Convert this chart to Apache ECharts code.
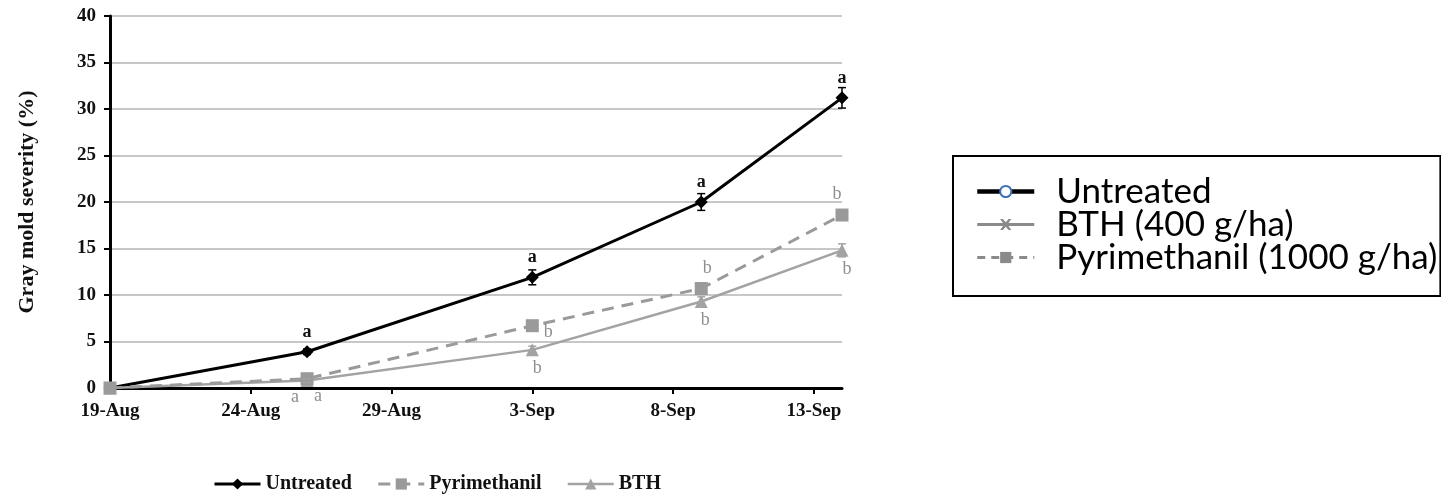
<!DOCTYPE html>
<html>
<head>
<meta charset="utf-8">
<script src="https://cdn.jsdelivr.net/npm/echarts@6/dist/echarts.min.js"></script>
<style>
  html, body { margin: 0; padding: 0; background: #fff; }
  #chart { width: 1441px; height: 495px; }
</style>
</head>
<body>
<div id="chart"></div>
<script>
// ---- data (x = days after 19-Aug) ----
const xDays = [0, 7, 15, 21, 26];
const untreated = [0, 3.9, 11.9, 20.0, 31.2];
const untreatedErr = [0, 0.3, 0.8, 0.9, 1.1];
const pyrimethanil = [0, 1.0, 6.7, 10.7, 18.6];
const pyrimethanilErr = [0, 0.2, 0.4, 0.6, 0.5];
const bth = [0, 0.8, 4.1, 9.3, 14.8];
const bthErr = [0, 0.2, 0.4, 0.5, 0.7];
const untreatedLetters = ['', 'a', 'a', 'a', 'a'];
const pyrimethanilLetters = ['', 'a', 'b', 'b', 'b'];
const bthLetters = ['', 'a', 'b', 'b', 'b'];
const xTickDays = [0, 5, 10, 15, 20, 25];
const xTickLabels = ['19-Aug', '24-Aug', '29-Aug', '3-Sep', '8-Sep', '13-Sep'];
const seriesNames = ['Untreated', 'Pyrimethanil', 'BTH'];
const keyNames = ['Untreated', 'BTH (400 g/ha)', 'Pyrimethanil (1000 g/ha)'];
const yAxisTitle = 'Gray mold severity (%)';

// ---- styling ----
const serif = '"Liberation Serif", "Times New Roman", serif';
const GRAY_P = '#9a9a9a';
const GRAY_B = '#a3a3a3';
const GRAY_K = '#8a8a8a';
const untreatedPlace = [null, {}, {}, {}, {}].map(p => ({ position: 'top', distance: 4 }));
const pyrPlace = [
  null,
  { position: 'bottom', offset: [11, -3] },
  { position: 'right', offset: [0, 7] },
  { position: 'top', offset: [6, 0] },
  { position: 'top', offset: [-5, 0] }
];
const bthPlace = [
  null,
  { position: 'bottom', offset: [-12, -4] },
  { position: 'bottom', offset: [5, -2] },
  { position: 'bottom', offset: [4, -2] },
  { position: 'bottom', offset: [5, -2] }
];

function buildData(vals, letters, places, labelStyle) {
  return vals.map((v, i) => {
    const item = { value: [xDays[i], v] };
    if (letters[i]) {
      item.label = Object.assign({ show: true, formatter: letters[i] }, labelStyle, places[i]);
    }
    return item;
  });
}
function errData(vals, errs) {
  return vals.map((v, i) => [xDays[i], v, errs[i]]);
}
function errRender(color) {
  return function (params, api) {
    const x = api.value(0), y = api.value(1), e = api.value(2);
    if (!e) return null;
    const lo = api.coord([x, y - e]);
    const hi = api.coord([x, y + e]);
    const w = 4;
    const style = { stroke: color, lineWidth: 1.5 };
    return {
      type: 'group',
      children: [
        { type: 'line', shape: { x1: lo[0], y1: lo[1], x2: hi[0], y2: hi[1] }, style },
        { type: 'line', shape: { x1: lo[0] - w, y1: lo[1], x2: lo[0] + w, y2: lo[1] }, style },
        { type: 'line', shape: { x1: hi[0] - w, y1: hi[1], x2: hi[0] + w, y2: hi[1] }, style }
      ]
    };
  };
}

const blackLetter = { color: '#111', fontFamily: serif, fontWeight: 'bold', fontSize: 18 };
const grayLetter = { color: '#8e8e8e', fontFamily: serif, fontWeight: 'normal', fontSize: 18, distance: 5 };

const xMark = 'path://M0,0 L5,0 L10,6 L15,0 L20,0 L13,10 L20,20 L15,20 L10,14 L5,20 L0,20 L7,10 Z';

const chart = echarts.init(document.getElementById('chart'), null, { renderer: 'canvas' });
chart.setOption({
  animation: false,
  backgroundColor: '#fff',
  grid: { left: 110, right: 599, top: 16, bottom: 107, containLabel: false },
  xAxis: {
    type: 'value',
    min: 0, max: 26, interval: 5,
    axisLine: { show: true, onZero: false, lineStyle: { color: '#000', width: 3 } },
    axisTick: { show: true, length: 6, customValues: xTickDays, lineStyle: { color: '#000', width: 2 } },
    axisLabel: {
      customValues: xTickDays,
      margin: 14,
      color: '#111', fontFamily: serif, fontWeight: 'bold', fontSize: 19,
      formatter: v => xTickLabels[xTickDays.indexOf(v)] || ''
    },
    splitLine: { show: false }
  },
  yAxis: {
    type: 'value',
    min: 0, max: 40, interval: 5,
    name: yAxisTitle,
    nameLocation: 'middle',
    nameGap: 72,
    nameTextStyle: { color: '#111', fontFamily: serif, fontWeight: 'bold', fontSize: 22 },
    axisLine: { show: true, lineStyle: { color: '#000', width: 3 } },
    axisTick: { show: true, length: 6, lineStyle: { color: '#000', width: 2 } },
    axisLabel: { margin: 14, color: '#111', fontFamily: serif, fontWeight: 'bold', fontSize: 19 },
    splitLine: { show: true, lineStyle: { color: '#b5b5b5', width: 1.5 } }
  },
  legend: [
    {
      data: [
        { name: seriesNames[0], lineStyle: { width: 3 } },
        { name: seriesNames[1], lineStyle: { width: 3 } },
        { name: seriesNames[2], lineStyle: { width: 2.5 } }
      ],
      orient: 'horizontal',
      left: 208, top: 469,
      itemWidth: 46, itemHeight: 14, itemGap: 25,
      textStyle: { color: '#111', fontFamily: serif, fontWeight: 'bold', fontSize: 20 },
      selectedMode: false
    },
    {
      data: [
        { name: 'key:' + keyNames[0], lineStyle: { width: 4.5 } },
        { name: 'key:' + keyNames[1], lineStyle: { width: 3 } },
        { name: 'key:' + keyNames[2], lineStyle: { width: 3 } }
      ],
      formatter: n => n.replace('key:', ''),
      orient: 'vertical',
      left: 953, top: 156,
      padding: [18, 3, 21, 22],
      itemWidth: 57, itemHeight: 14, itemGap: -2,
      backgroundColor: '#fff',
      borderColor: '#000', borderWidth: 2, borderRadius: 0,
      textStyle: { color: '#000', fontFamily: 'Lato, "Open Sans", sans-serif', fontSize: 35, padding: [0, 0, 0, 17] },
      selectedMode: false
    }
  ],
  series: [
    {
      name: 'Untreated', type: 'line', z: 3,
      symbol: 'diamond', symbolSize: 13,
      itemStyle: { color: '#000' },
      lineStyle: { color: '#000', width: 3 },
      data: buildData(untreated, untreatedLetters, untreatedPlace, blackLetter)
    },
    {
      name: 'BTH', type: 'line', z: 4,
      symbol: 'triangle', symbolSize: 13,
      itemStyle: { color: GRAY_B },
      lineStyle: { color: GRAY_B, width: 2.5 },
      data: buildData(bth, bthLetters, bthPlace, grayLetter)
    },
    {
      name: 'Pyrimethanil', type: 'line', z: 5,
      symbol: 'rect', symbolSize: 13,
      itemStyle: { color: GRAY_P },
      lineStyle: { color: GRAY_P, width: 3, type: [12, 8] },
      data: buildData(pyrimethanil, pyrimethanilLetters, pyrPlace, grayLetter)
    },
    { type: 'custom', z: 6, renderItem: errRender('#000'), data: errData(untreated, untreatedErr), silent: true },
    { type: 'custom', z: 6, renderItem: errRender(GRAY_B), data: errData(bth, bthErr), silent: true },
    { type: 'custom', z: 6, renderItem: errRender(GRAY_P), data: errData(pyrimethanil, pyrimethanilErr), silent: true },
    // key entries for the boxed legend
    {
      name: 'key:' + keyNames[0], type: 'line', data: [],
      symbol: 'circle', symbolSize: 8,
      itemStyle: { color: '#fff', borderColor: '#3d6fb8', borderWidth: 2 },
      lineStyle: { color: '#000', width: 4.5 }
    },
    {
      name: 'key:' + keyNames[1], type: 'line', data: [],
      symbol: xMark, symbolSize: 12,
      itemStyle: { color: GRAY_K },
      lineStyle: { color: GRAY_K, width: 3 }
    },
    {
      name: 'key:' + keyNames[2], type: 'line', data: [],
      symbol: 'rect', symbolSize: 9,
      itemStyle: { color: GRAY_K },
      lineStyle: { color: GRAY_K, width: 3, type: [8, 6] }
    }
  ]
});
</script>
</body>
</html>
